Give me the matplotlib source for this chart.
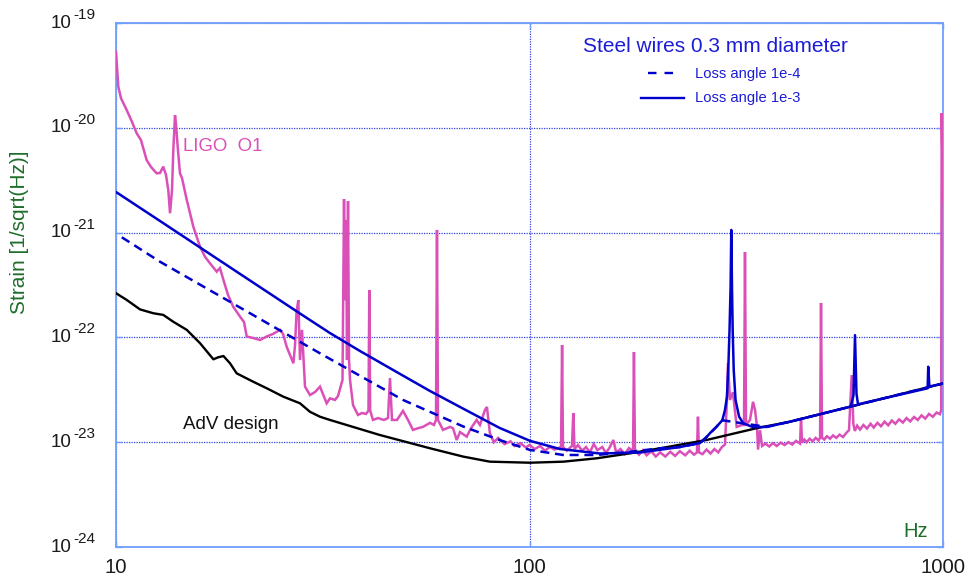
import matplotlib
matplotlib.use('Agg')
import matplotlib.pyplot as plt
from matplotlib import transforms
from matplotlib.ticker import FixedLocator, NullLocator, NullFormatter
from matplotlib.lines import Line2D

plt.rcParams['font.family'] = ['Liberation Sans', 'DejaVu Sans']

# ---------------- data ----------------
ligo_freq = [10, 10.13, 10.28, 10.61, 10.93, 11.22, 11.49, 11.86, 12.15, 12.54,
             12.78, 13.01, 13.21, 13.38, 13.51, 13.66, 13.76, 13.89, 13.97, 14.12,
             14.28, 14.44, 14.83, 15.38, 15.97, 16.41, 16.88, 17.52, 17.84, 18.25,
             18.66, 19.21, 19.95, 20.40, 20.71, 21.45, 22.30, 23.15, 23.98, 24.93,
             25.35, 25.87, 26.35, 26.85, 27.10, 27.33, 27.60, 27.86, 28.17, 28.65,
             29.45, 30.29, 31.14, 32.32, 32.92, 33.86, 34.43, 35.30, 35.60, 35.80,
             36.00, 36.20, 36.40, 36.61, 36.81, 37.43, 38.48, 39.35, 40.23, 40.79,
             40.98, 41.18, 41.83, 43.01, 44.47, 45.48, 45.98, 46.50, 47.81, 49.44,
             50.84, 52.27, 53.75, 55.26, 57.46, 58.75, 59.41, 59.74, 60.07, 61.77,
             64.23, 65.31, 66.68, 67.92, 70.49, 72.2, 74.5, 75.89, 78.03, 78.9,
             80.2, 82, 84, 87, 90, 92, 95, 98, 100, 103,
             106, 109, 112, 115, 119.2, 119.9, 120.5, 123, 126.7, 127.6,
             128.5, 131, 134, 137, 140, 143, 146, 150, 153, 156,
             159.5, 162, 166, 170, 174, 178, 178.9, 179.9, 184, 188,
             192, 197, 202, 207, 213, 219, 225, 231, 238, 244,
             250, 254.1, 255.5, 256.9, 262, 268, 274, 280, 286, 292,
             297, 300.3, 302, 305.4, 310.5, 317, 326.5, 330.2, 332.0, 333.9,
             341.4, 347.2, 351.1, 355.0, 357.0, 361, 365, 372, 380, 388,
             396, 405, 414, 423, 432, 441, 451.1, 453.6, 456.1, 462,
             468, 476, 484, 492, 500, 504.3, 507.0, 509.9, 516, 524,
             533, 542, 552, 562, 573, 585, 592.5, 601.5, 606.9, 612,
             620, 630, 642, 655, 668, 680, 694, 708, 722, 737,
             752, 767, 783, 800, 816, 833, 851, 869, 887, 906,
             925, 945, 965, 983, 990, 992.7, 1000]
ligo_strain = [5.3e-20, 2.47e-20, 1.92e-20, 1.48e-20, 1.14e-20, 8.87e-21, 7.65e-21, 4.93e-21, 4.23e-21, 3.68e-21,
               3.71e-21, 4.26e-21, 3.55e-21, 2.55e-21, 1.53e-21, 2.55e-21, 6.14e-21, 1.32e-20, 1.06e-20, 6.14e-21,
               3.68e-21, 3.32e-21, 2.05e-21, 1.14e-21, 7.33e-22, 5.89e-22, 5.09e-22, 4.24e-22, 4.59e-22, 3.38e-22,
               2.54e-22, 1.96e-22, 1.58e-22, 1.40e-22, 1.02e-22, 9.87e-23, 9.44e-23, 1.02e-22, 1.08e-22, 1.18e-22,
               1.08e-22, 8.14e-23, 6.79e-23, 5.66e-23, 8.45e-23, 1.75e-22, 2.27e-22, 6.08e-23, 1.18e-22, 3.39e-23,
               2.82e-23, 3.01e-23, 3.39e-23, 2.35e-23, 2.62e-23, 2.53e-23, 2.76e-23, 3.93e-23, 2.09e-21, 2.27e-22,
               1.32e-21, 6.08e-23, 2.00e-21, 6.08e-23, 3.93e-23, 2.26e-23, 1.82e-23, 1.90e-23, 1.86e-23, 2.00e-23,
               2.83e-22, 2.00e-23, 1.63e-23, 1.70e-23, 1.63e-23, 1.70e-23, 4.10e-23, 1.63e-23, 1.63e-23, 1.99e-23,
               1.63e-23, 1.31e-23, 1.36e-23, 1.40e-23, 1.53e-23, 1.46e-23, 1.63e-23, 1.06e-21, 1.63e-23, 1.31e-23,
               1.40e-23, 1.36e-23, 1.05e-23, 1.25e-23, 1.13e-23, 1.36e-23, 1.63e-23, 1.46e-23, 2.03e-23, 2.17e-23,
               1.22e-23, 1.0e-23, 1.1e-23, 9.6e-24, 1.02e-23, 9.2e-24, 9.8e-24, 8.9e-24, 9.4e-24, 8.6e-24,
               9.2e-24, 8.3e-24, 9.0e-24, 8.5e-24, 9.0e-24, 8.45e-23, 9.0e-24, 8.3e-24, 9.2e-24, 1.9e-23,
               8.6e-24, 9.4e-24, 8.3e-24, 9.0e-24, 8.0e-24, 9.6e-24, 8.4e-24, 9.0e-24, 7.9e-24, 8.8e-24,
               1.05e-23, 8.0e-24, 8.6e-24, 7.7e-24, 8.8e-24, 8.2e-24, 7.26e-23, 8.4e-24, 7.6e-24, 8.4e-24,
               7.5e-24, 8.2e-24, 7.3e-24, 8.0e-24, 7.3e-24, 8.1e-24, 7.4e-24, 8.2e-24, 7.5e-24, 8.3e-24,
               7.6e-24, 8.0e-24, 1.75e-23, 8.0e-24, 7.7e-24, 8.5e-24, 7.8e-24, 8.6e-24, 8.0e-24, 9.0e-24,
               9.5e-24, 2.53e-23, 5.70e-23, 2.53e-23, 3.00e-23, 1.40e-23, 1.46e-23, 1.46e-23, 6.53e-22, 1.46e-23,
               1.63e-23, 2.43e-23, 2.03e-23, 1.40e-23, 8.5e-24, 1.30e-23, 9.2e-24, 9.7e-24, 9.1e-24, 9.8e-24,
               9.2e-24, 9.9e-24, 9.4e-24, 1.0e-23, 9.5e-24, 1.03e-23, 9.7e-24, 1.70e-23, 9.9e-24, 1.06e-23,
               1.0e-23, 1.08e-23, 1.02e-23, 1.1e-23, 1.04e-23, 1.10e-23, 2.13e-22, 1.1e-23, 1.06e-23, 1.14e-23,
               1.08e-23, 1.16e-23, 1.1e-23, 1.18e-23, 1.12e-23, 1.24e-23, 1.3e-23, 4.37e-23, 1.5e-23, 1.28e-23,
               1.44e-23, 1.32e-23, 1.46e-23, 1.35e-23, 1.5e-23, 1.38e-23, 1.53e-23, 1.42e-23, 1.57e-23, 1.45e-23,
               1.61e-23, 1.5e-23, 1.65e-23, 1.54e-23, 1.7e-23, 1.58e-23, 1.74e-23, 1.63e-23, 1.8e-23, 1.68e-23,
               1.86e-23, 1.75e-23, 1.92e-23, 1.85e-23, 2.02e-23, 1.38e-20, 2.0e-21]

adv_freq = [10, 10.61, 11.43, 12.31, 13.01, 13.76, 14.83, 15.97, 17.2, 17.67,
            18.19, 18.87, 19.58, 21.46, 23.15, 25.38, 27.86, 29.45, 31.14, 32.92,
            43.5, 57.46, 69.2, 80.2, 100.3, 120.8, 145.4, 175, 207, 268,
            354, 427, 596, 1000]
adv_strain = [2.64e-22, 2.28e-22, 1.85e-22, 1.70e-22, 1.64e-22, 1.41e-22, 1.18e-22, 8.8e-23, 6.18e-23, 6.46e-23,
              6.64e-23, 5.66e-23, 4.54e-23, 3.78e-23, 3.27e-23, 2.72e-23, 2.35e-23, 1.95e-23, 1.75e-23, 1.63e-23,
              1.17e-23, 8.75e-24, 7.28e-24, 6.52e-24, 6.37e-24, 6.52e-24, 7.02e-24, 7.83e-24, 8.75e-24, 1.05e-23,
              1.36e-23, 1.57e-23, 2.18e-23, 3.63e-23]

loss3_freq = [10, 12.78, 15.97, 21.09, 27.86, 32.92, 38.92, 48.63, 57.46, 67.9,
              84.6, 100.3, 118.5, 148.1, 185, 231, 258.4, 268, 273.2, 283.6,
              292.6, 297, 300.3, 302.8, 304.6, 306.4, 307.6, 308.8, 310, 311.8,
              315, 321.3, 329, 347.8, 374.8, 426.6, 596, 598.6, 607.6, 612.6,
              617.7, 623, 918, 921, 927, 1000]
loss3_strain = [2.44e-21, 1.29e-21, 7.21e-22, 3.49e-22, 1.69e-22, 1.10e-22, 7.41e-23, 4.48e-23, 3.08e-23, 2.17e-23,
                1.37e-23, 1.03e-23, 8.61e-24, 7.8e-24, 7.98e-24, 8.99e-24, 9.82e-24, 1.12e-23, 1.22e-23, 1.41e-23,
                1.62e-23, 2.03e-23, 2.72e-23, 5.66e-23, 1.18e-22, 3.05e-22, 1.06e-21, 3.05e-22, 1.18e-22, 4.9e-23,
                2.53e-23, 1.75e-23, 1.51e-23, 1.39e-23, 1.40e-23, 1.57e-23, 2.18e-23, 2.2e-23, 2.82e-23, 1.05e-22,
                2.9e-23, 2.3e-23, 3.27e-23, 5.25e-23, 3.4e-23, 3.63e-23]

loss4_freq = [10.33, 12.78, 31.14, 49.44, 69.2, 84.6, 100.3, 120.8, 145.4, 175,
              207, 231, 258.4, 268, 283.6, 292.6, 329, 374.8, 426.6, 596, 1000]
loss4_strain = [9.02e-22, 5.27e-22, 7.05e-23, 2.53e-23, 1.41e-23, 1.05e-23, 8.43e-24, 7.55e-24, 7.55e-24, 8.1e-24,
                8.75e-24, 8.99e-24, 9.82e-24, 1.12e-23, 1.41e-23, 1.62e-23, 1.51e-23, 1.40e-23, 1.57e-23, 2.18e-23,
                3.63e-23]

x_ticks = [10, 100, 1000]
x_tick_labels = ['10', '100', '1000']
y_exponents = [-24, -23, -22, -21, -20, -19]

# ---------------- styling ----------------
PINK = '#da50b8'
BLUE = '#0000cc'
TXTBLUE = '#1c1cd6'
GREEN = '#1e6e2c'
SPINE = '#6f9fff'
GRID = '#3344dd'
TICKTXT = '#1a1a1a'

W, H = 968, 583
fig = plt.figure(figsize=(W / 100, H / 100), dpi=100)
L, R, T, B = 116, 943, 23, 547
ax = fig.add_axes([L / W, 1 - B / H, (R - L) / W, (B - T) / H])
ax.set_xscale('log')
ax.set_yscale('log')
ax.set_xlim(10, 1000)
ax.set_ylim(1e-24, 1e-19)

ax.plot(ligo_freq, ligo_strain, color=PINK, lw=1.8, zorder=3, solid_joinstyle='miter')
ax.plot(adv_freq, adv_strain, color='black', lw=1.7, zorder=4)
ax.plot(loss4_freq, loss4_strain, color=BLUE, lw=1.8, ls=(0, (3.6, 2.3)), zorder=5)
ax.plot(loss3_freq, loss3_strain, color=BLUE, lw=1.8, zorder=6)

ax.xaxis.set_major_locator(FixedLocator(x_ticks))
ax.xaxis.set_minor_locator(NullLocator())
ax.set_xticklabels(x_tick_labels, fontsize=14.7, color=TICKTXT)
ax.yaxis.set_major_locator(FixedLocator([10.0 ** e for e in y_exponents]))
ax.yaxis.set_minor_locator(NullLocator())
ax.yaxis.set_major_formatter(NullFormatter())
ax.tick_params(which='major', direction='in', length=4, width=1, color=SPINE,
               top=True, right=True)
ax.tick_params(axis='x', pad=7.8)
ax.grid(True, which='major', color=GRID, ls=(0, (1, 1)), lw=0.9)
for s in ax.spines.values():
    s.set_color(SPINE)
    s.set_linewidth(1.3)

# y tick labels as 10 with raised exponent
base = transforms.blended_transform_factory(fig.transFigure, ax.transData)
for e in y_exponents:
    t1 = transforms.offset_copy(base, fig=fig, y=-4.5, units='dots')
    ax.text(72 / W, 10.0 ** e, '10', transform=t1, ha='right', va='baseline',
            fontsize=13.6, color=TICKTXT)
    t2 = transforms.offset_copy(base, fig=fig, y=4, units='dots')
    ax.text(73 / W, 10.0 ** e, str(e), transform=t2, ha='left', va='baseline',
            fontsize=11.1, color=TICKTXT)


def fx(x):
    return x / W


def fy(y):
    return 1 - y / H


fig.text(fx(19.5), fy(232.5), 'Strain [1/sqrt(Hz)]', rotation=90, ha='center', va='center',
         fontsize=15, color=GREEN)
fig.text(fx(903), fy(536.7), 'Hz', ha='left', va='baseline', fontsize=14.5, color=GREEN)
fig.text(fx(182.7), fy(150.7), 'LIGO  O1', ha='left', va='baseline', fontsize=13.4, color=PINK)
fig.text(fx(182.7), fy(429.3), 'AdV design', ha='left', va='baseline', fontsize=13.5, color='#111111')
fig.text(fx(582.7), fy(52.3), 'Steel wires 0.3 mm diameter', ha='left', va='baseline',
         fontsize=15, color=TXTBLUE)
fig.text(fx(695), fy(77.7), 'Loss angle 1e-4', ha='left', va='baseline', fontsize=10.6, color=TXTBLUE)
fig.text(fx(695), fy(101.7), 'Loss angle 1e-3', ha='left', va='baseline', fontsize=10.6, color=TXTBLUE)
fig.add_artist(Line2D([fx(648), fx(676)], [fy(72.7), fy(72.7)], color=BLUE, lw=1.7,
                      ls=(0, (3.6, 3.4))))
fig.add_artist(Line2D([fx(640.7), fx(684)], [fy(98.3), fy(98.3)], color=BLUE, lw=1.7))

fig.savefig('out.png', dpi=100, facecolor='white')
